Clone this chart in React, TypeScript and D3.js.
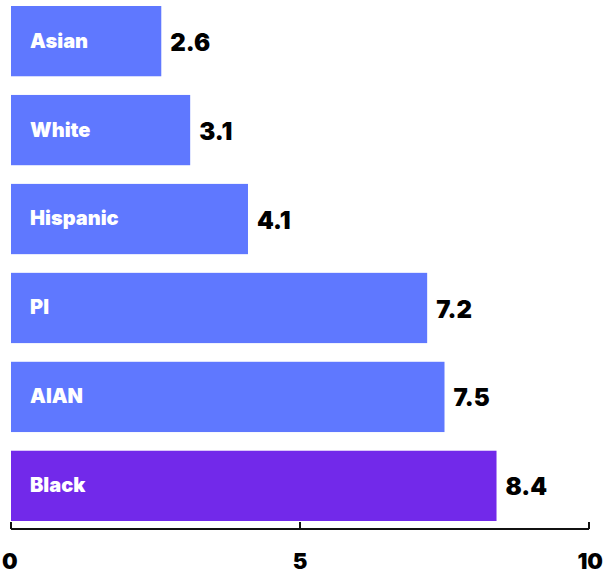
import React, { useEffect, useRef } from 'react';
import * as d3 from 'd3';

const groups = ['Asian', 'White', 'Hispanic', 'PI', 'AIAN', 'Black'];
const rates = [2.6, 3.1, 4.1, 7.2, 7.5, 8.4];
const highlight = 'Black';
const xTicks = [0, 5, 10];

const App: React.FC = () => {
  const svgRef = useRef<SVGSVGElement>(null);

  useEffect(() => {
    if (!svgRef.current) return;
    const width = 605;
    const height = 576;

    const svg = d3.select(svgRef.current);
    svg.selectAll('*').remove();

    const data = groups.map((g, i) => ({ name: g, value: rates[i] }));

    const x = d3.scaleLinear().domain([0, 10]).range([11, 589]);
    const y = d3.scaleBand()
      .domain(groups)
      .range([6, 521])
      .paddingInner(0.21)
      .paddingOuter(0);

    const font = 'Inter, Roboto, sans-serif';

    // bars
    svg.selectAll('.bar')
      .data(data)
      .enter()
      .append('rect')
      .attr('class', 'bar')
      .attr('x', x(0))
      .attr('y', d => y(d.name)!)
      .attr('width', d => x(d.value) - x(0))
      .attr('height', y.bandwidth())
      .attr('fill', d => (d.name === highlight ? '#7229ea' : '#5f78ff'));

    // names inside bars
    svg.selectAll('.name')
      .data(data)
      .enter()
      .append('text')
      .attr('class', 'name')
      .attr('x', x(0) + 19)
      .attr('y', d => y(d.name)! + y.bandwidth() / 2 + 1)
      .attr('dominant-baseline', 'middle')
      .attr('fill', '#fff')
      .style('font-family', font)
      .style('font-weight', 900)
      .style('font-size', '20px')
      .text(d => d.name);

    // values
    svg.selectAll('.value')
      .data(data)
      .enter()
      .append('text')
      .attr('class', 'value')
      .attr('x', d => x(d.value) + 9)
      .attr('y', d => y(d.name)! + y.bandwidth() / 2 + 3)
      .attr('dominant-baseline', 'middle')
      .attr('fill', '#000')
      .style('font-family', font)
      .style('font-weight', 900)
      .style('font-size', '24px')
      .text(d => d.value.toFixed(1));

    // axis
    const axisY = 529;
    svg.append('line')
      .attr('x1', x(0))
      .attr('x2', x(10))
      .attr('y1', axisY)
      .attr('y2', axisY)
      .attr('stroke', '#111')
      .attr('stroke-width', 2);

    svg.selectAll('.tick')
      .data(xTicks)
      .enter()
      .append('line')
      .attr('class', 'tick')
      .attr('x1', d => x(d))
      .attr('x2', d => x(d))
      .attr('y1', axisY - 7)
      .attr('y2', axisY)
      .attr('stroke', '#111')
      .attr('stroke-width', 2);

    svg.selectAll('.tick-label')
      .data(xTicks)
      .enter()
      .append('text')
      .attr('class', 'tick-label')
      .attr('x', d => (d === 0 ? 2 : d === 10 ? width - 2 : x(d)))
      .attr('y', 563)
      .attr('text-anchor', d => (d === 0 ? 'start' : d === 10 ? 'end' : 'middle'))
      .attr('dominant-baseline', 'middle')
      .attr('fill', '#000')
      .style('font-family', font)
      .style('font-weight', 900)
      .style('font-size', '22px')
      .text(d => String(d));

    svg.attr('width', width).attr('height', height);
  }, []);

  return (
    <svg
      ref={svgRef}
      width={605}
      height={576}
      style={{ position: 'absolute', left: 0, top: 0, background: '#fff' }}
    />
  );
};

export default App;
